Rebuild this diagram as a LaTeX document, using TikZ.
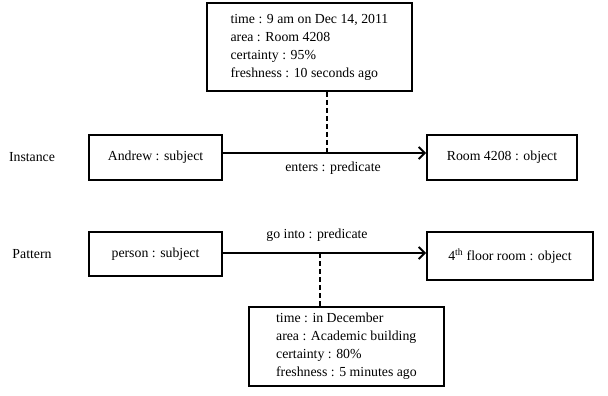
\documentclass[tikz,border=0pt]{standalone}
\usepackage{fontspec}
\setmainfont{Liberation Serif}
\usetikzlibrary{arrows.meta}
\begin{document}
\begin{tikzpicture}[x=1pt,y=-1pt,
  font=\fontsize{13.8}{18}\selectfont,
  box/.style={draw,line width=1.9pt,rectangle,inner sep=0pt},
  infobox/.style={box,align=left,inner xsep=11pt,anchor=north west},
  lbl/.style={inner sep=0pt},
  rel/.style={line width=1.9pt,-{Straight Barb[length=6pt,width=12pt,line width=1.9pt]}},
  link/.style={line width=1.9pt,dash pattern=on 5pt off 3pt}]
\fill[white] (0,0) rectangle (608,396);
\useasboundingbox (0,0) rectangle (608,396);

% context attached to the instance
\node[infobox,minimum width=205pt,minimum height=88pt] (ctxA) at (206,2)
  {time : 9 am on Dec 14, 2011\\area : Room 4208\\certainty : 95\%\\freshness : 10 seconds ago};

% instance row
\node[lbl] (inst) at (32,157) {Instance};
\node[box,minimum width=133pt,minimum height=45pt] (andrew) at (155.5,157.5) {Andrew : subject};
\node[box,minimum width=150pt,minimum height=45pt] (room) at (502,157.5) {Room 4208 : object};
\coordinate (jA) at (327,153);
\draw[rel] (andrew.east |- jA) -- (room.west |- jA);
\node[lbl] (enters) at (333,168) {enters : predicate};
\draw[link] (ctxA.south -| jA) -- (jA);

% pattern row
\node[lbl] (patt) at (32,254) {Pattern};
\node[box,minimum width=133pt,minimum height=44pt] (person) at (155.5,254) {person : subject};
\node[box,minimum width=166pt,minimum height=48pt] (floor) at (510,256) {4\textsuperscript{th} floor room : object};
\coordinate (jB) at (320,253);
\draw[rel] (person.east |- jB) -- (floor.west |- jB);
\node[lbl] (gointo) at (317,235) {go into : predicate};

% context attached to the pattern
\node[infobox,minimum width=195pt,minimum height=79pt] (ctxB) at (248,306)
  {time : in December\\area : Academic building\\certainty : 80\%\\freshness : 5 minutes ago};
\draw[link] (jB) -- (ctxB.north -| jB);
\end{tikzpicture}
\end{document}
